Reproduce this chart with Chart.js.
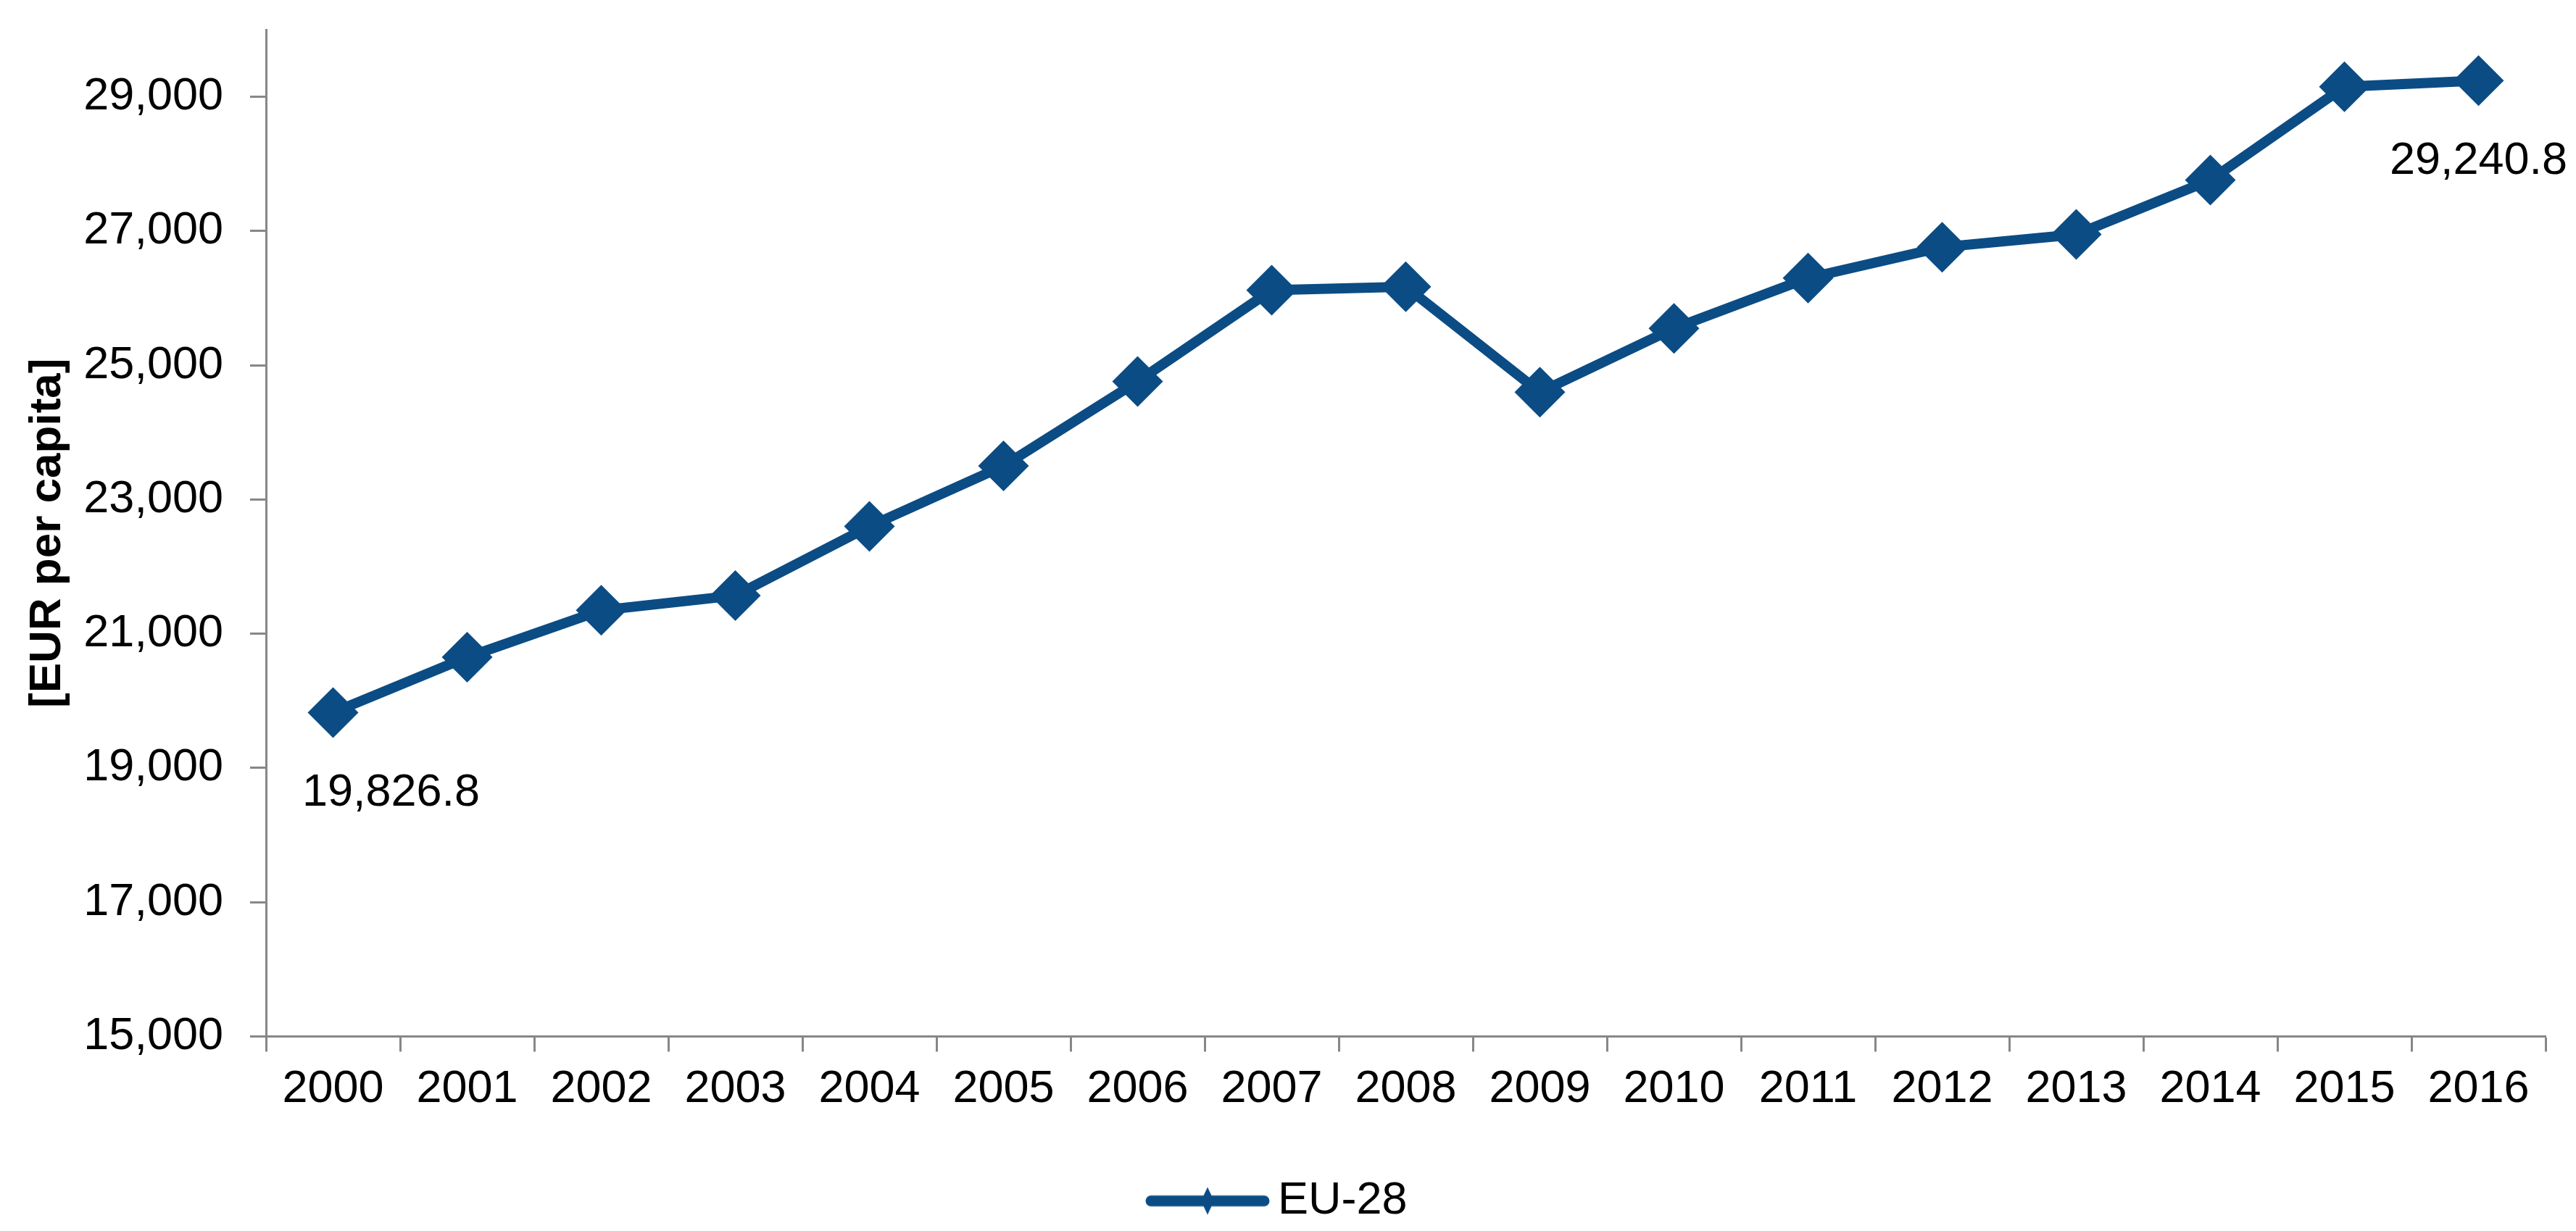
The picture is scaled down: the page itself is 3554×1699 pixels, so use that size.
<!DOCTYPE html>
<html>
<head>
<meta charset="utf-8">
<script src="https://cdn.jsdelivr.net/npm/chart.js@4.4.1/dist/chart.umd.min.js"></script>
<style>
  html, body { margin: 0; padding: 0; background: #fff; }
  #wrap { width: 3554px; height: 1699px; }
</style>
</head>
<body>
<div id="wrap"><canvas id="chart" width="3554" height="1699"></canvas></div>
<script>
const years = ['2000', '2001', '2002', '2003', '2004', '2005', '2006', '2007', '2008',
  '2009', '2010', '2011', '2012', '2013', '2014', '2015', '2016'];
const eu28 = [19826.8, 20650, 21350, 21570, 22600, 23500, 24760, 26120, 26170,
  24600, 25550, 26300, 26760, 26950, 27760, 29150, 29240.8];
const yTicks = [15000, 17000, 19000, 21000, 23000, 25000, 27000, 29000];
const labelledPoints = [0, 16];

const BLUE = '#0b4c84';
const AXIS = '#878787';
const FONT = '"Liberation Sans", Arial, sans-serif';

// legend symbol: thick line with a small diamond in the middle
function legendSymbol() {
  const c = document.createElement('canvas');
  c.width = 192; c.height = 40;
  const g = c.getContext('2d');
  g.strokeStyle = BLUE;
  g.lineWidth = 15;
  g.lineCap = 'round';
  g.beginPath(); g.moveTo(28, 20); g.lineTo(184, 20); g.stroke();
  g.fillStyle = BLUE;
  g.beginPath();
  g.moveTo(106, 1); g.lineTo(115, 20); g.lineTo(106, 39); g.lineTo(97, 20);
  g.closePath(); g.fill();
  return c;
}

// value labels under first and last point
const pointLabels = {
  id: 'pointLabels',
  afterDatasetsDraw(chart) {
    const meta = chart.getDatasetMeta(0);
    const ctx = chart.ctx;
    ctx.save();
    ctx.font = '63px ' + FONT;
    ctx.fillStyle = '#000';
    ctx.textAlign = 'center';
    ctx.textBaseline = 'middle';
    labelledPoints.forEach(i => {
      const p = meta.data[i];
      const dx = i === 0 ? 80 : 0;
      const txt = eu28[i].toLocaleString('en-US', { minimumFractionDigits: 1, maximumFractionDigits: 1 });
      ctx.fillText(txt, p.x + dx, p.y + 111);
    });
    ctx.restore();
  }
};

new Chart(document.getElementById('chart'), {
  type: 'line',
  data: {
    labels: years,
    datasets: [{
      label: 'EU-28',
      data: eu28,
      borderColor: BLUE,
      backgroundColor: BLUE,
      borderWidth: 14,
      tension: 0,
      pointStyle: 'rectRot',
      pointRadius: 35,
      pointHoverRadius: 35,
      pointBorderWidth: 0,
      pointBackgroundColor: BLUE,
      clip: false
    }]
  },
  options: {
    responsive: false,
    animation: false,
    layout: { padding: { left: 10, right: 42, top: 41, bottom: 0 } },
    plugins: {
      tooltip: { enabled: false },
      legend: {
        position: 'bottom',
        labels: {
          usePointStyle: true,
          pointStyle: legendSymbol(),
          pointStyleWidth: 151,
          padding: 10,
          color: '#000',
          font: { family: FONT, size: 63 }
        }
      }
    },
    scales: {
      x: {
        offset: true,
        grid: {
          offset: true,
          drawOnChartArea: false,
          drawTicks: true,
          tickLength: 21,
          tickWidth: 3,
          tickColor: AXIS
        },
        border: { display: true, color: AXIS, width: 3 },
        ticks: {
          color: '#000',
          padding: 14,
          maxRotation: 0,
          autoSkip: false,
          font: { family: FONT, size: 63 }
        },
        afterFit(scale) {
          scale.height = 185.5;
          scale.paddingLeft = 0;
          scale.paddingRight = 0;
        }
      },
      y: {
        min: 15000,
        max: 30000,
        afterBuildTicks(scale) {
          scale.ticks = yTicks.map(v => ({ value: v }));
        },
        grid: {
          drawOnChartArea: false,
          drawTicks: true,
          tickLength: 22,
          tickWidth: 3,
          tickColor: AXIS
        },
        border: { display: true, color: AXIS, width: 3 },
        ticks: {
          color: '#000',
          padding: 37,
          font: { family: FONT, size: 63 },
          callback: v => v.toLocaleString('en-US')
        },
        title: {
          display: true,
          text: '[EUR per capita]',
          color: '#000',
          padding: { top: 19, bottom: 0 },
          font: { family: FONT, size: 62, weight: 'bold' }
        },
        afterFit(scale) {
          scale.width = 357;
          scale.paddingTop = 0;
          scale.paddingBottom = 0;
        }
      }
    }
  },
  plugins: [pointLabels]
});
</script>
</body>
</html>
